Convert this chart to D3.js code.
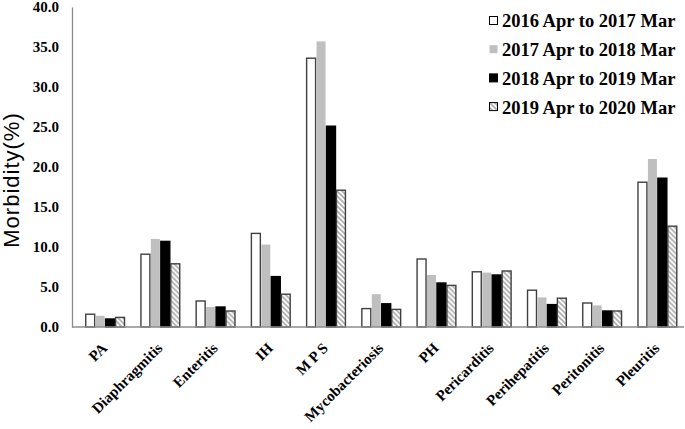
<!DOCTYPE html>
<html>
<head>
<meta charset="utf-8">
<script src="https://cdn.jsdelivr.net/npm/d3@7"></script>
<style>
  body { margin: 0; background: #fff; }
  svg { display: block; }
</style>
</head>
<body>
<svg id="viz"></svg>
<script>
const categories = ["PA", "Diaphragmitis", "Enteritis", "IH", "M P S", "Mycobacteriosis",
  "PH", "Pericarditis", "Perihepatitis", "Peritonitis", "Pleuritis"];

const seriesNames = ["2016 Apr to 2017 Mar", "2017 Apr to 2018 Mar",
  "2018 Apr to 2019 Mar", "2019 Apr to 2020 Mar"];

const y2016 = [1.6, 9.1, 3.25, 11.7, 33.6, 2.3, 8.5, 6.9, 4.6, 3.0, 18.1];
const y2017 = [1.4, 11.0, 2.5, 10.3, 35.7, 4.1, 6.5, 6.8, 3.7, 2.7, 21.0];
const y2018 = [1.0, 10.7, 2.5, 6.3, 25.1, 2.9, 5.5, 6.5, 2.8, 2.0, 18.6];
const y2019 = [1.2, 7.9, 2.0, 4.1, 17.1, 2.2, 5.2, 7.0, 3.6, 2.0, 12.6];

const yTicks = [0, 5, 10, 15, 20, 25, 30, 35, 40];

const allSeries = [y2016, y2017, y2018, y2019];

const width = 685, height = 429;
const svg = d3.select("#viz").attr("width", width).attr("height", height);
const serif = "'Liberation Serif', 'Times New Roman', serif";

// hatch pattern for the last series (stripes running top-left to bottom-right)
const defs = svg.append("defs");
const pat = defs.append("pattern")
  .attr("id", "hatch")
  .attr("patternUnits", "userSpaceOnUse")
  .attr("width", 5).attr("height", 5);
pat.append("rect").attr("width", 5).attr("height", 5).attr("fill", "#fff");
pat.append("path")
  .attr("d", "M-1,-1L6,6M-1,4L1,6M4,-1L6,1")
  .attr("stroke", "#b0b0b0").attr("stroke-width", 1.8);

const fills = ["#fff", "#bfbfbf", "#000", "url(#hatch)"];
const strokes = ["#404040", "none", "#000", "#404040"];

const y = d3.scaleLinear().domain([0, 40]).range([327, 7]);
const x = d3.scaleBand().domain(categories).range([77.5, 685]);
const xs = d3.scaleBand().domain(d3.range(4)).range([-19.4, 19.4]).paddingInner(0.1);

// y axis
const yAxis = svg.append("g")
  .attr("transform", "translate(72,0)")
  .call(d3.axisLeft(y).tickValues(yTicks).tickFormat(d3.format(".1f")).tickSize(0).tickPadding(13));
yAxis.select(".domain").attr("stroke", "#8c8c8c").attr("stroke-width", 1.3);
yAxis.selectAll("text")
  .attr("font-family", serif)
  .attr("font-weight", "bold")
  .attr("font-size", 15)
  .attr("fill", "#000");

// bars
const groups = svg.selectAll("g.grp")
  .data(categories)
  .join("g")
  .attr("class", "grp")
  .attr("transform", d => `translate(${x(d) + x.bandwidth() / 2},0)`);

groups.selectAll("rect")
  .data((d, i) => allSeries.map((s, k) => ({ k, v: s[i] })))
  .join("rect")
  .attr("x", d => xs(d.k))
  .attr("width", xs.bandwidth())
  .attr("y", d => y(d.v))
  .attr("height", d => y(0) - y(d.v))
  .attr("fill", d => fills[d.k])
  .attr("stroke", d => strokes[d.k])
  .attr("stroke-width", 1.4);

// x axis line
svg.append("line")
  .attr("x1", 72).attr("x2", 684)
  .attr("y1", y(0)).attr("y2", y(0))
  .attr("stroke", "#8c8c8c").attr("stroke-width", 1.6);

// x labels, rotated 45 degrees
svg.append("g").selectAll("text")
  .data(categories)
  .join("text")
  .attr("transform", d => `translate(${x(d) + x.bandwidth() / 2 + 3},${y(0) + 22}) rotate(-45)`)
  .attr("text-anchor", "end")
  .attr("font-family", serif)
  .attr("font-weight", "bold")
  .attr("font-size", 15)
  .attr("fill", "#000")
  .text(d => d);

// y title
svg.append("text")
  .attr("transform", "translate(19,180) rotate(-90)")
  .attr("text-anchor", "middle")
  .attr("font-family", "'Liberation Sans', Arial, sans-serif")
  .attr("font-size", 22)
  .attr("letter-spacing", 1)
  .text("Morbidity(%)");

// legend
const legend = svg.append("g").attr("transform", "translate(489,21)");
const li = legend.selectAll("g")
  .data(seriesNames)
  .join("g")
  .attr("transform", (d, i) => `translate(0,${i * 28.7})`);
li.append("rect")
  .attr("x", 0.5).attr("y", -4.5)
  .attr("width", 8).attr("height", 8)
  .attr("fill", (d, i) => fills[i])
  .attr("stroke", (d, i) => strokes[i] === "none" ? "none" : "#000")
  .attr("stroke-width", 1);
li.append("text")
  .attr("x", 13)
  .attr("dy", "0.35em")
  .attr("font-family", serif)
  .attr("font-weight", "bold")
  .attr("font-size", 18.5)
  .text(d => d);
</script>
</body>
</html>
